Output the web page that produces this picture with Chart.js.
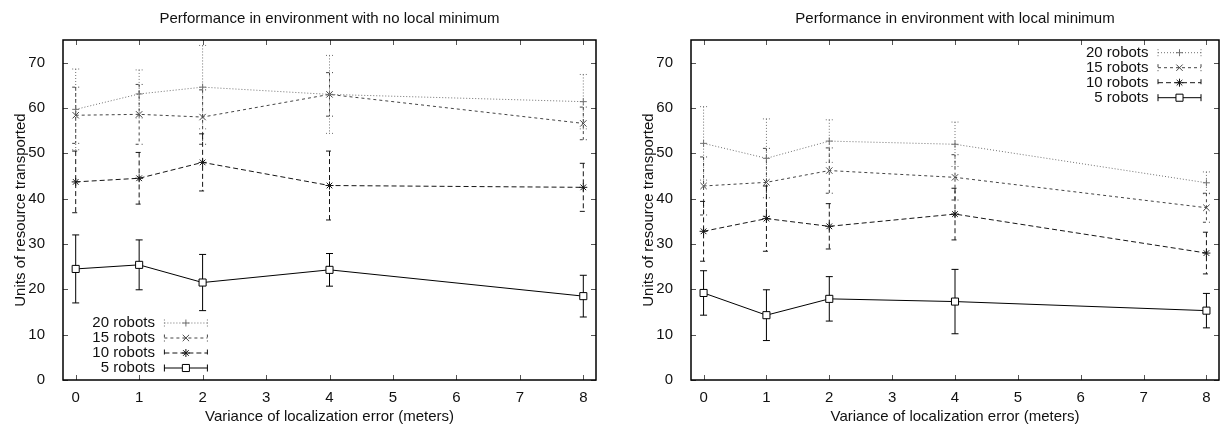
<!DOCTYPE html>
<html>
<head>
<meta charset="utf-8">
<script src="https://cdn.jsdelivr.net/npm/chart.js@4/dist/chart.umd.min.js"></script>
<style>
  html, body { margin: 0; padding: 0; background: #fff; overflow: hidden; }
  #wrap { position: relative; width: 1225px; height: 432px; }
  canvas { position: absolute; top: 0; }
  #noMinChart { left: 0; }
  #withMinChart { left: 628px; }
</style>
</head>
<body>
<div id="wrap">
  <canvas id="noMinChart" width="612" height="432"></canvas>
  <canvas id="withMinChart" width="597" height="432"></canvas>
</div>
<script>
// Data
// ------------------------------
var errorVariance = [0, 1, 2, 4, 8];
var seriesLabels = ["20 robots", "15 robots", "10 robots", "5 robots"];
var xTickValues = [0, 1, 2, 3, 4, 5, 6, 7, 8];
var yTickValues = [0, 10, 20, 30, 40, 50, 60, 70];

// environment with no local minimum (mean, +/- error)
var noMin20 = [59.7, 63.1, 64.6, 63.0, 61.4];
var noMin20Err = [8.9, 5.3, 9.2, 8.6, 6.0];
var noMin15 = [58.4, 58.6, 58.0, 63.0, 56.6];
var noMin15Err = [6.2, 6.6, 6.0, 4.8, 3.6];
var noMin10 = [43.7, 44.5, 48.0, 42.9, 42.5];
var noMin10Err = [6.8, 5.7, 6.3, 7.6, 5.3];
var noMin5 = [24.5, 25.4, 21.5, 24.3, 18.5];
var noMin5Err = [7.5, 5.5, 6.2, 3.6, 4.6];

// environment with local minimum (mean, +/- error)
var withMin20 = [52.2, 48.9, 52.7, 52.0, 43.5];
var withMin20Err = [8.1, 8.7, 4.7, 4.9, 2.4];
var withMin15 = [42.8, 43.6, 46.2, 44.7, 38.0];
var withMin15Err = [6.4, 7.5, 5.0, 5.0, 3.2];
var withMin10 = [32.8, 35.6, 33.9, 36.6, 28.0];
var withMin10Err = [6.6, 7.2, 5.0, 5.7, 4.6];
var withMin5 = [19.2, 14.3, 17.9, 17.3, 15.3];
var withMin5Err = [4.9, 5.6, 4.9, 7.1, 3.8];

// line / point style per series (20, 15, 10, 5 robots)
var seriesStyles = [
    { color: "#707070", dash: [1, 2], point: "cross", radius: 3.5, fill: "rgba(0,0,0,0)" },
    { color: "#444444", dash: [3, 3], point: "crossRot", radius: 4.5, fill: "rgba(0,0,0,0)" },
    { color: "#151515", dash: [5, 3], point: "star", radius: 4, fill: "rgba(0,0,0,0)" },
    { color: "#000000", dash: [], point: "rect", radius: 5, fill: "#ffffff" }
];

Chart.defaults.font.family = '"Liberation Sans", Arial, Helvetica, sans-serif';
Chart.defaults.font.size = 15;
Chart.defaults.color = "#111";

// error bars drawn through the chart's own scales
var errorBarPlugin = {
    id: "errorBars",
    beforeDatasetsDraw: function(chart) {
        var ctx = chart.ctx, xs = chart.scales.x, ys = chart.scales.y;
        chart.data.datasets.forEach(function(ds) {
            ctx.save();
            ctx.strokeStyle = ds.borderColor;
            ctx.lineWidth = 1;
            ctx.setLineDash(ds.borderDash);
            ds.data.forEach(function(p, i) {
                var x = xs.getPixelForValue(p.x);
                var top = ys.getPixelForValue(p.y + ds.errors[i]);
                var bot = ys.getPixelForValue(p.y - ds.errors[i]);
                ctx.beginPath();
                ctx.moveTo(x, top); ctx.lineTo(x, bot);
                ctx.moveTo(x - 3.5, top); ctx.lineTo(x + 3.5, top);
                ctx.moveTo(x - 3.5, bot); ctx.lineTo(x + 3.5, bot);
                ctx.stroke();
            });
            ctx.restore();
        });
    }
};

// gnuplot-like frame with inward ticks on all four sides
var framePlugin = {
    id: "frame",
    afterDraw: function(chart) {
        var ctx = chart.ctx, a = chart.chartArea;
        var xs = chart.scales.x, ys = chart.scales.y;
        ctx.save();
        ctx.strokeStyle = "#555";
        ctx.lineWidth = 1;
        ctx.beginPath();
        xs.ticks.forEach(function(t) {
            var x = Math.round(xs.getPixelForValue(t.value)) + 0.5;
            ctx.moveTo(x, a.bottom); ctx.lineTo(x, a.bottom - 5);
            ctx.moveTo(x, a.top); ctx.lineTo(x, a.top + 5);
        });
        ys.ticks.forEach(function(t) {
            var y = Math.round(ys.getPixelForValue(t.value)) + 0.5;
            ctx.moveTo(a.left, y); ctx.lineTo(a.left + 5, y);
            ctx.moveTo(a.right, y); ctx.lineTo(a.right - 5, y);
        });
        ctx.stroke();
        ctx.strokeStyle = "#000";
        ctx.lineWidth = 1.5;
        ctx.strokeRect(a.left, a.top, a.right - a.left, a.bottom - a.top);
        ctx.restore();
    }
};

// key: label text on the left, sample line with caps and marker on the right
var keyPlugin = {
    id: "gnuKey",
    afterDraw: function(chart, args, opts) {
        var ctx = chart.ctx, a = chart.chartArea;
        var n = chart.data.datasets.length, rowH = 15, sampleW = 43, gap = 9.5;
        var sampleEnd, y0;
        if (opts.corner === "topright") {
            sampleEnd = a.right - 18;
            y0 = a.top + 12.7;
        } else {
            sampleEnd = a.left + 144.4;
            y0 = a.bottom - 12 - rowH * (n - 1);
        }
        var x1 = sampleEnd - sampleW;
        ctx.save();
        ctx.font = "15px " + Chart.defaults.font.family;
        ctx.textAlign = "right";
        ctx.textBaseline = "middle";
        chart.data.datasets.forEach(function(ds, i) {
            var y = y0 + i * rowH;
            ctx.fillStyle = "#111";
            ctx.fillText(ds.label, x1 - gap, y);
            ctx.strokeStyle = ds.borderColor;
            ctx.lineWidth = 1;
            ctx.setLineDash(ds.borderDash);
            ctx.beginPath();
            ctx.moveTo(x1, y); ctx.lineTo(sampleEnd, y);
            ctx.moveTo(x1, y - 3.5); ctx.lineTo(x1, y + 3.5);
            ctx.moveTo(sampleEnd, y - 3.5); ctx.lineTo(sampleEnd, y + 3.5);
            ctx.stroke();
            ctx.setLineDash([]);
            ctx.fillStyle = ds.pointBackgroundColor;
            Chart.helpers.drawPoint(ctx, {
                pointStyle: ds.pointStyle, radius: ds.pointRadius,
                borderWidth: 1, rotation: 0
            }, (x1 + sampleEnd) / 2, y);
        });
        ctx.restore();
    }
};

function buildDatasets(means, errs) {
    return means.map(function(m, k) {
        var st = seriesStyles[k];
        return {
            label: seriesLabels[k],
            data: errorVariance.map(function(x, i) { return { x: x, y: m[i] }; }),
            errors: errs[k],
            borderColor: st.color,
            borderWidth: 1,
            borderDash: st.dash,
            tension: 0,
            fill: false,
            pointStyle: st.point,
            pointRadius: st.radius,
            pointBorderWidth: 1,
            pointBorderColor: st.color,
            pointBackgroundColor: st.fill
        };
    });
}

function makeChart(canvasId, title, means, errs, corner, rightPad) {
    var ctx = document.getElementById(canvasId);
    return new Chart(ctx, {
        type: "line",
        data: { datasets: buildDatasets(means, errs) },
        options: {
            responsive: false,
            animation: false,
            events: [],
            layout: { padding: { left: 0, right: rightPad, top: 0, bottom: 0 } },
            plugins: {
                legend: { display: false },
                tooltip: { enabled: false },
                title: {
                    display: true, text: title, fullSize: false,
                    color: "#111",
                    font: { size: 15, weight: "normal" },
                    padding: { top: 10, bottom: 12 }
                },
                gnuKey: { corner: corner }
            },
            scales: {
                x: {
                    type: "linear", min: -0.2, max: 8.2,
                    afterFit: function(s) { s.height = 52; },
                    afterBuildTicks: function(s) {
                        s.ticks = xTickValues.map(function(v) { return { value: v }; });
                    },
                    grid: { display: false },
                    border: { display: false },
                    ticks: { padding: 1, maxRotation: 0, autoSkip: false, color: "#111" },
                    title: {
                        display: true, text: "Variance of localization error (meters)",
                        color: "#111", padding: { top: 0, bottom: 6 }
                    }
                },
                y: {
                    type: "linear", min: 0, max: 75,
                    afterFit: function(s) { s.width = 63; },
                    afterBuildTicks: function(s) {
                        s.ticks = yTickValues.map(function(v) { return { value: v }; });
                    },
                    grid: { display: false },
                    border: { display: false },
                    ticks: { padding: 10, color: "#111" },
                    title: {
                        display: true, text: "Units of resource transported",
                        color: "#111", padding: { top: 12, bottom: 0 }
                    }
                }
            }
        },
        plugins: [errorBarPlugin, framePlugin, keyPlugin]
    });
}

makeChart("noMinChart", "Performance in environment with no local minimum",
    [noMin20, noMin15, noMin10, noMin5],
    [noMin20Err, noMin15Err, noMin10Err, noMin5Err], "bottomleft", 16);

makeChart("withMinChart", "Performance in environment with local minimum",
    [withMin20, withMin15, withMin10, withMin5],
    [withMin20Err, withMin15Err, withMin10Err, withMin5Err], "topright", 1);
</script>
</body>
</html>
